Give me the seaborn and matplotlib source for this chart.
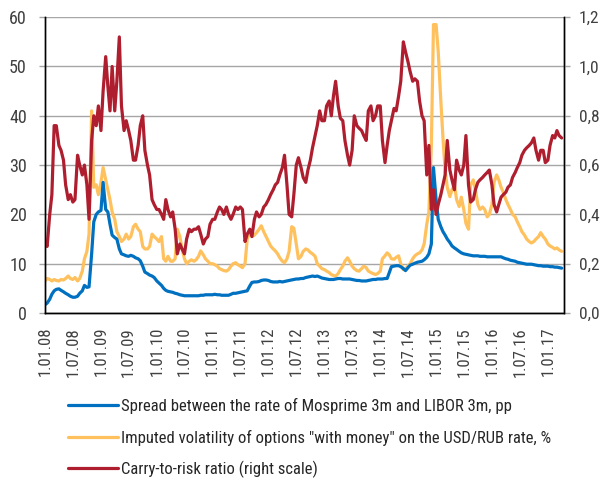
import pandas as pd
import matplotlib
matplotlib.use("Agg")
import matplotlib.pyplot as plt
import seaborn as sns

# semi-monthly observations, 1 Jan 2008 .. 1 Apr 2017
spread = [
    1.7, 2.0, 2.8, 3.8, 4.5, 4.8, 4.9, 4.6, 4.3, 4.0, 3.7, 3.4, 3.2, 3.2, 3.4, 4.0, 4.5, 5.6, 5.2, 5.3, 12.0, 18.5, 20.0, 20.5,
    20.8, 26.5, 21.0, 20.5, 18.0, 15.8, 15.3, 15.0, 13.0, 12.0, 11.8, 11.6, 11.5, 11.7, 11.5, 11.2, 11.0, 10.6, 9.5, 8.3, 8.0, 7.7, 7.5, 7.2,
    6.5, 6.1, 5.6, 5.0, 4.6, 4.4, 4.3, 4.2, 4.0, 3.9, 3.7, 3.6, 3.5, 3.5, 3.5, 3.5, 3.5, 3.5, 3.5, 3.6, 3.6, 3.7, 3.7, 3.7,
    3.7, 3.8, 3.7, 3.7, 3.6, 3.6, 3.6, 3.6, 3.8, 4.0, 4.0, 4.1, 4.2, 4.3, 4.4, 4.5, 5.5, 6.2, 6.3, 6.3, 6.4, 6.6, 6.7, 6.7,
    6.6, 6.4, 6.3, 6.3, 6.3, 6.4, 6.3, 6.4, 6.5, 6.6, 6.7, 6.8, 6.9, 6.9, 7.0, 7.0, 7.2, 7.3, 7.4, 7.5, 7.4, 7.5, 7.3, 7.1,
    7.0, 6.9, 6.8, 6.8, 6.8, 6.9, 7.0, 7.0, 6.9, 6.9, 6.9, 6.9, 6.8, 6.7, 6.6, 6.6, 6.5, 6.5, 6.5, 6.6, 6.7, 6.8, 6.8, 6.9,
    6.9, 6.9, 7.0, 7.0, 8.2, 9.4, 9.5, 9.6, 9.6, 9.4, 9.0, 8.6, 9.2, 9.7, 9.9, 10.1, 10.3, 10.4, 10.5, 10.8, 11.3, 12.0, 14.0, 29.5,
    23.0, 19.0, 17.5, 16.5, 15.8, 15.0, 14.3, 13.6, 13.2, 12.9, 12.5, 12.2, 12.0, 11.9, 11.8, 11.7, 11.6, 11.6, 11.6, 11.5, 11.5, 11.5, 11.4, 11.4,
    11.4, 11.4, 11.4, 11.4, 11.4, 11.2, 11.0, 10.9, 10.7, 10.6, 10.5, 10.3, 10.2, 10.1, 10.0, 9.9, 9.9, 9.9, 9.8, 9.7, 9.6, 9.6, 9.5, 9.5,
    9.5, 9.4, 9.4, 9.3, 9.3, 9.2, 9.1,
]
volatility = [
    6.5, 7.0, 6.8, 6.5, 6.8, 6.6, 6.5, 6.8, 6.7, 7.0, 7.5, 7.0, 6.8, 7.2, 6.5, 7.0, 8.5, 11.0, 12.5, 16.0, 41.0, 25.5, 26.0, 24.0,
    26.5, 29.5, 27.0, 25.0, 23.0, 20.5, 19.0, 16.5, 15.5, 14.5, 15.0, 16.0, 15.0, 15.5, 17.5, 18.0, 17.0, 16.5, 13.5, 13.0, 13.0, 13.5, 16.0, 15.5,
    15.0, 14.5, 15.5, 11.0, 10.5, 11.5, 10.5, 10.5, 11.0, 17.0, 15.5, 13.0, 11.0, 10.0, 10.5, 10.8, 10.5, 10.8, 11.5, 12.6, 11.8, 11.0, 10.5, 10.0,
    10.0, 9.8, 9.5, 9.0, 8.8, 8.6, 8.5, 8.8, 9.5, 10.0, 10.2, 9.8, 9.5, 9.2, 10.0, 15.0, 16.5, 15.5, 15.8, 16.3, 17.0, 17.7, 16.5, 15.6,
    14.5, 13.6, 13.0, 12.6, 12.0, 11.2, 10.5, 10.2, 11.0, 12.5, 17.5, 17.2, 14.0, 11.0, 11.5, 12.5, 13.0, 12.8, 12.3, 12.0, 11.5, 10.0, 9.5, 9.0,
    8.8, 8.5, 8.2, 7.8, 7.6, 7.5, 8.0, 8.8, 9.5, 10.5, 11.2, 10.5, 9.5, 9.0, 8.6, 8.5, 9.0, 9.5, 9.2, 8.5, 8.2, 8.0, 7.8, 8.0,
    8.5, 11.0, 11.6, 12.2, 11.8, 11.0, 10.9, 11.3, 11.6, 10.0, 8.8, 9.0, 9.5, 10.0, 11.0, 11.6, 12.0, 12.2, 12.8, 14.0, 18.0, 20.5, 34.0, 58.5,
    58.5, 53.0, 43.0, 35.5, 29.0, 25.5, 23.6, 25.0, 26.0, 23.0, 21.6, 23.5, 21.0, 18.2, 17.0, 26.0, 27.0, 25.0, 22.0, 21.0, 21.5, 21.0, 19.5, 20.0,
    22.0, 26.5, 28.0, 27.0, 25.5, 24.5, 23.0, 22.0, 21.0, 20.0, 19.5, 18.5, 17.5, 16.5, 15.8, 15.0, 14.5, 14.2, 14.5, 15.0, 15.5, 16.3, 15.5, 15.0,
    14.0, 13.6, 13.3, 13.0, 13.2, 12.8, 12.5,
]
carry_to_risk = [
    0.29, 0.27, 0.40, 0.48, 0.76, 0.76, 0.68, 0.66, 0.62, 0.52, 0.46, 0.48, 0.45, 0.46, 0.64, 0.60, 0.56, 0.60, 0.52, 0.38, 0.70, 0.80, 0.76, 0.84,
    0.74, 0.90, 1.04, 0.92, 0.82, 1.00, 0.82, 0.94, 1.12, 0.84, 0.74, 0.78, 0.74, 0.70, 0.62, 0.62, 0.68, 0.76, 0.80, 0.66, 0.60, 0.56, 0.46, 0.44,
    0.42, 0.42, 0.40, 0.38, 0.46, 0.42, 0.39, 0.41, 0.34, 0.24, 0.28, 0.26, 0.24, 0.30, 0.34, 0.33, 0.34, 0.34, 0.35, 0.32, 0.28, 0.30, 0.31, 0.36,
    0.38, 0.38, 0.41, 0.43, 0.42, 0.40, 0.43, 0.40, 0.38, 0.40, 0.43, 0.42, 0.43, 0.42, 0.29, 0.32, 0.34, 0.31, 0.38, 0.41, 0.39, 0.40, 0.43, 0.44,
    0.46, 0.48, 0.50, 0.52, 0.53, 0.56, 0.59, 0.64, 0.52, 0.40, 0.39, 0.48, 0.60, 0.63, 0.59, 0.55, 0.53, 0.58, 0.62, 0.67, 0.72, 0.76, 0.82, 0.78,
    0.78, 0.84, 0.86, 0.80, 0.88, 0.94, 0.84, 0.79, 0.78, 0.70, 0.64, 0.60, 0.66, 0.80, 0.76, 0.75, 0.74, 0.72, 0.70, 0.82, 0.84, 0.78, 0.80, 0.84,
    0.84, 0.70, 0.61, 0.68, 0.74, 0.78, 0.83, 0.82, 0.88, 0.94, 1.10, 1.06, 1.02, 0.98, 0.94, 0.95, 0.94, 0.86, 0.80, 0.78, 0.56, 0.68, 0.42, 0.50,
    0.40, 0.44, 0.48, 0.52, 0.56, 0.70, 0.58, 0.54, 0.50, 0.62, 0.58, 0.56, 0.60, 0.72, 0.52, 0.45, 0.46, 0.50, 0.53, 0.54, 0.55, 0.56, 0.57, 0.58,
    0.52, 0.44, 0.41, 0.44, 0.47, 0.48, 0.49, 0.51, 0.52, 0.55, 0.57, 0.59, 0.61, 0.64, 0.66, 0.67, 0.68, 0.69, 0.71, 0.66, 0.62, 0.66, 0.66, 0.61,
    0.62, 0.68, 0.72, 0.71, 0.74, 0.72, 0.71,
]

labels = [
    "Spread between the rate of Mosprime 3m and LIBOR 3m, pp",
    'Imputed volatility of options "with money" on the USD/RUB rate, %',
    "Carry-to-risk ratio (right scale)",
]
colors = ["#0070C0", "#FFC15E", "#AE1E2E"]

month_starts = pd.date_range("2008-01-01", "2017-04-01", freq="MS")
dates = []
for i, m in enumerate(month_starts):
    dates.append(m)
    if i < len(month_starts) - 1:
        dates.append(m + pd.Timedelta(days=14))

df = pd.DataFrame({"date": dates, "spread": spread, "vol": volatility, "ctr": carry_to_risk})

sns.set_style("white")
plt.rcParams["font.family"] = ["Roboto Condensed", "DejaVu Sans"]
plt.rcParams["font.stretch"] = "condensed"

fig = plt.figure(figsize=(6.03, 4.91), dpi=100)
ax = fig.add_axes([0.0746, 0.3625, 0.8604, 0.6025])
ax2 = ax.twinx()

sns.lineplot(data=df, x="date", y="vol", ax=ax, color=colors[1], lw=2.3, label=labels[1], legend=False)
sns.lineplot(data=df, x="date", y="spread", ax=ax, color=colors[0], lw=2.3, label=labels[0], legend=False)
sns.lineplot(data=df, x="date", y="ctr", ax=ax2, color=colors[2], lw=2.3, label=labels[2], legend=False)

ax.set_ylim(0, 60)
ax.set_yticks(range(0, 61, 10))
ax2.set_ylim(0, 1.2)
ax2.set_yticks([0, 0.2, 0.4, 0.6, 0.8, 1.0, 1.2])
ax2.set_yticklabels([f"{v:.1f}".replace(".", ",") for v in ax2.get_yticks()])

ax.set_xlim(pd.Timestamp("2008-01-01"), pd.Timestamp("2017-04-15"))
ticks = pd.date_range("2008-01-01", "2017-01-01", freq="6MS")
ax.set_xticks(ticks)
ax.set_xticklabels([f"{d.day}.{d:%m}.{d:%y}" for d in ticks], rotation=90)

ax.grid(axis="y", color="#A6A6A6", lw=1)
ax.set_axisbelow(True)
for a in (ax, ax2):
    a.set_xlabel("")
    a.set_ylabel("")
    a.spines["top"].set_visible(False)
    for s in ("left", "bottom", "right"):
        a.spines[s].set_color("black")
        a.spines[s].set_linewidth(1)
ax.tick_params(axis="y", labelsize=13, colors="#A6A6A6", labelcolor="#404040", length=4.5, width=1, pad=8.5)
ax2.tick_params(axis="y", labelsize=12.5, colors="#A6A6A6", labelcolor="#404040", length=4.5, width=1, pad=6.5)
ax.tick_params(axis="x", labelsize=12, colors="#A6A6A6", labelcolor="#404040", length=7, width=1, pad=3)

h1, _ = ax.get_legend_handles_labels()
h2, _ = ax2.get_legend_handles_labels()
handles = [h1[1], h1[0], h2[0]]
fig.legend(handles, labels, loc="upper left", bbox_to_anchor=(0.113, 0.189),
           frameon=False, fontsize=12, handlelength=3.0, handletextpad=0.2,
           labelspacing=0.92, borderaxespad=0, borderpad=0)
for t in fig.legends[0].get_texts():
    t.set_color("#262626")

fig.savefig("out.png", dpi=100)
